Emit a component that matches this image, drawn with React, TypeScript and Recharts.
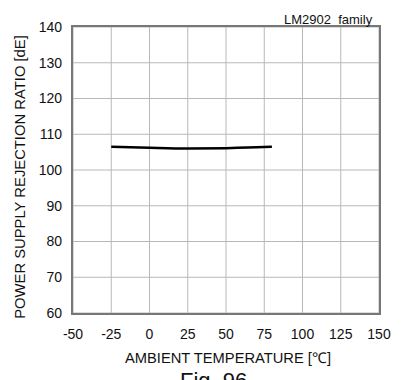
import React from 'react';
import { LineChart, Line, XAxis, YAxis, CartesianGrid } from 'recharts';

// PSRR vs ambient temperature
const temperatures = [-25, 0, 25, 50, 75, 80];
const psrrValues = [106.5, 106.2, 106.0, 106.1, 106.4, 106.5];

const xTicks = [-50, -25, 0, 25, 50, 75, 100, 125, 150];
const yTicks = [60, 70, 80, 90, 100, 110, 120, 130, 140];

const data = temperatures.map((t, i) => ({ temp: t, psrr: psrrValues[i] }));

const font = '"Liberation Sans", Arial, sans-serif';

const App = () => {
  return (
    <div style={{ position: 'absolute', left: 0, top: 0, width: 403, height: 380, background: '#fff', fontFamily: font }}>
      <LineChart
        width={403}
        height={380}
        data={data}
        margin={{ top: 27, right: 24, bottom: 17, left: 0 }}
      >
        <CartesianGrid stroke="#b8b8b8" strokeWidth={1} />
        <XAxis
          dataKey="temp"
          type="number"
          domain={[-50, 150]}
          ticks={xTicks}
          interval={0}
          height={50}
          tickLine={false}
          tickSize={0}
          tickMargin={16}
          axisLine={false}
          tick={{ fontSize: 14, fill: '#111', fontFamily: font }}
          label={{
            content: () => (
              <text x={228} y={358} textAnchor="middle" dominantBaseline="central" fontSize={14.7} fill="#111" fontFamily={font}>
                AMBIENT TEMPERATURE [℃]
              </text>
            ),
          }}
        />
        <YAxis
          type="number"
          domain={[60, 140]}
          ticks={yTicks}
          interval={0}
          width={73}
          tickLine={false}
          tickSize={0}
          tickMargin={11}
          axisLine={false}
          tick={{ fontSize: 14, fill: '#111', fontFamily: font }}
          label={{
            content: () => (
              <text
                x={20}
                y={177}
                transform="rotate(-90 20 177)"
                textAnchor="middle"
                dominantBaseline="central"
                fontSize={14.8}
                fill="#111"
                fontFamily={font}
              >
                POWER SUPPLY REJECTION RATIO [dE]
              </text>
            ),
          }}
        />
        <Line
          type="monotone"
          dataKey="psrr"
          stroke="#000"
          strokeWidth={2.5}
          dot={false}
          isAnimationActive={false}
        />
      </LineChart>
      {/* plot frame */}
      <div style={{ position: 'absolute', left: 72, top: 26, width: 306, height: 286, border: '2px solid #777', boxSizing: 'content-box', pointerEvents: 'none', marginLeft: -1, marginTop: -1 }} />
      <div style={{ position: 'absolute', left: 284, top: 12, fontSize: 13, color: '#111', whiteSpace: 'pre' }}>
        LM2902  family
      </div>
      <div style={{ position: 'absolute', left: 180, top: 368, fontSize: 22, color: '#111' }}>
        Fig. 96
      </div>
    </div>
  );
};

export default App;
